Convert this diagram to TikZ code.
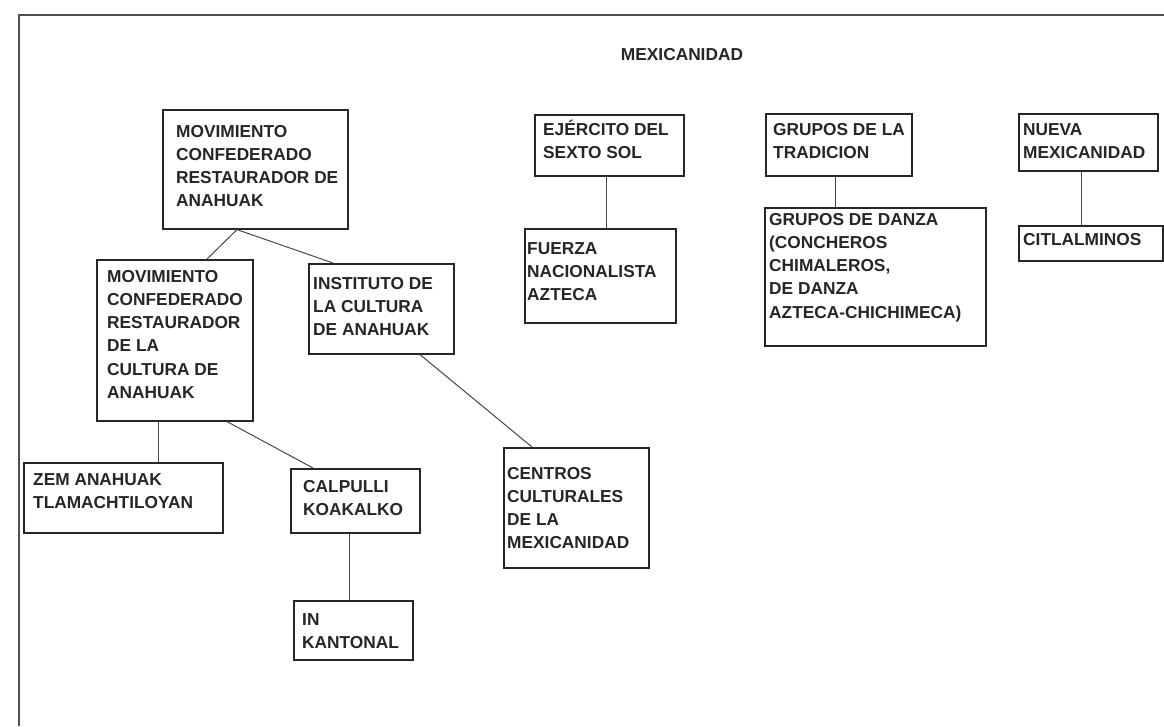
\documentclass[tikz,border=0pt]{standalone}
\usepackage{fontspec}
\setmainfont{Liberation Sans}
\usetikzlibrary{calc}
\definecolor{ink}{HTML}{262626}
\definecolor{frame}{HTML}{505050}
\newcommand{\bxt}[1]{\begin{tabular}[t]{@{}l@{}}#1\end{tabular}}
\tikzset{
  box/.style={draw=ink, line width=1.6pt, rectangle, inner sep=0pt, fill=none},
  txt/.style={anchor=base west, inner sep=0pt, text=ink,
    font=\fontsize{17.3}{23.3}\selectfont\bfseries},
  link/.style={draw=ink!85, line width=1pt},
  border/.style={draw=frame, line width=1.8pt}
}
\begin{document}
\begin{tikzpicture}[x=1pt,y=-1pt]
\useasboundingbox (0,0) rectangle (1164,726);
\fill[white] (0,0) rectangle (1164,726);
% frame
\coordinate (fl) at (19,726);
\coordinate (fc) at (19,15);
\coordinate (fr) at (1164,15);
\draw[border] (fl) -- (fc) -- (fr);
% title
\node[txt, anchor=base] (title) at (682,60) {MEXICANIDAD};
% boxes
\node[box, anchor=north west, minimum width=185pt, minimum height=119pt] (b1) at (162,109) {};
\node[box, anchor=north west, minimum width=156pt, minimum height=161pt] (b2) at (96,259) {};
\node[box, anchor=north west, minimum width=145pt, minimum height=90pt] (inst) at (308,263) {};
\node[box, anchor=north west, minimum width=199pt, minimum height=70pt] (zem) at (23,462) {};
\node[box, anchor=north west, minimum width=129pt, minimum height=64pt] (calp) at (290,468) {};
\node[box, anchor=north west, minimum width=119pt, minimum height=59pt] (ink) at (293,600) {};
\node[box, anchor=north west, minimum width=145pt, minimum height=120pt] (cent) at (503,447) {};
\node[box, anchor=north west, minimum width=149pt, minimum height=61pt] (ejer) at (534,114) {};
\node[box, anchor=north west, minimum width=151pt, minimum height=94pt] (fuer) at (524,228) {};
\node[box, anchor=north west, minimum width=146pt, minimum height=62pt] (grup) at (765,113) {};
\node[box, anchor=north west, minimum width=221pt, minimum height=138pt] (danza) at (764,207) {};
\node[box, anchor=north west, minimum width=139pt, minimum height=57pt] (nueva) at (1018,113) {};
\node[box, anchor=north west, minimum width=144pt, minimum height=35pt] (citl) at (1018,225) {};
% texts
\node[txt] (t1) at (176,137) {\bxt{MOVIMIENTO\\CONFEDERADO\\RESTAURADOR DE\\ANAHUAK}};
\node[txt] (t2) at (107,282) {\bxt{MOVIMIENTO\\CONFEDERADO\\RESTAURADOR\\DE LA\\CULTURA DE\\ANAHUAK}};
\node[txt] (t3) at (313,289) {\bxt{INSTITUTO DE\\LA CULTURA\\DE ANAHUAK}};
\node[txt] (t4) at (33,485) {\bxt{ZEM ANAHUAK\\TLAMACHTILOYAN}};
\node[txt] (t5) at (303,492) {\bxt{CALPULLI\\KOAKALKO}};
\node[txt] (t6) at (302,625) {\bxt{IN\\KANTONAL}};
\node[txt] (t7) at (507,479) {\bxt{CENTROS\\CULTURALES\\DE LA\\MEXICANIDAD}};
\node[txt] (t8) at (543,135) {\bxt{EJÉRCITO DEL\\SEXTO SOL}};
\node[txt] (t9) at (527,254) {\bxt{FUERZA\\NACIONALISTA\\AZTECA}};
\node[txt] (t10) at (773,135) {\bxt{GRUPOS DE LA\\TRADICION}};
\node[txt] (t11) at (769,225) {\bxt{GRUPOS DE DANZA\\(CONCHEROS\\CHIMALEROS,\\DE DANZA\\AZTECA-CHICHIMECA)}};
\node[txt] (t12) at (1023,135) {\bxt{NUEVA\\MEXICANIDAD}};
\node[txt] (t13) at (1023,245) {\bxt{CITLALMINOS}};
% connectors
\draw[link] ([xshift=75pt]b1.south west) -- ([xshift=111pt]b2.north west);
\draw[link] ([xshift=75pt]b1.south west) -- ([xshift=25pt]inst.north west);
\draw[link] ([xshift=112pt]inst.south west) -- ([xshift=29pt]cent.north west);
\draw[link] ([xshift=62pt]b2.south west) -- ([xshift=135pt]zem.north west);
\draw[link] ([xshift=131pt]b2.south west) -- ([xshift=23pt]calp.north west);
\draw[link] ([xshift=59pt]calp.south west) -- ([xshift=56pt]ink.north west);
\draw[link] ([xshift=72pt]ejer.south west) -- ([xshift=82pt]fuer.north west);
\draw[link] ([xshift=70pt]grup.south west) -- ([xshift=71pt]danza.north west);
\draw[link] ([xshift=63pt]nueva.south west) -- ([xshift=63pt]citl.north west);
\end{tikzpicture}
\end{document}
